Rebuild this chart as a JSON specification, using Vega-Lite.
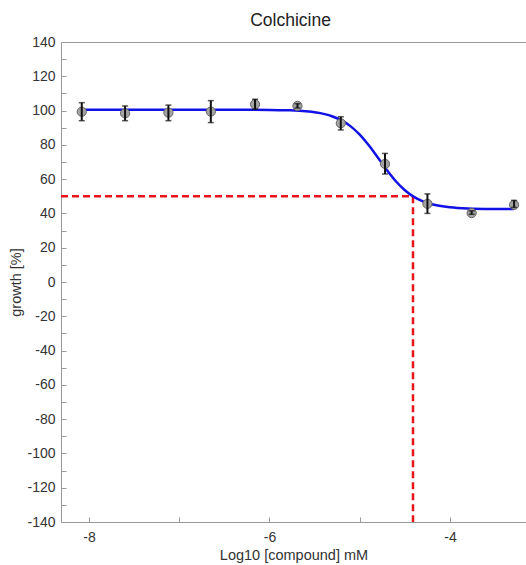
{
  "$schema": "https://vega.github.io/schema/vega-lite/v6.json",
  "width": 465,
  "height": 480,
  "autosize": {"type": "none"},
  "padding": {"left": 61, "top": 42, "right": 0, "bottom": 43},
  "background": "white",
  "config": {
    "view": {"stroke": "#999", "strokeWidth": 1},
    "font": "Liberation Sans",
    "axis": {
      "grid": false,
      "domain": false,
      "tickColor": "#999",
      "tickSize": 5,
      "offset": -5,
      "labelFont": "Liberation Sans",
      "labelFontSize": 14,
      "labelColor": "#333",
      "titleFont": "Liberation Sans",
      "titleFontSize": 14.5,
      "titleFontWeight": "normal",
      "titleColor": "#333"
    }
  },
  "title": {"text": "Colchicine", "fontSize": 17.5, "fontWeight": "normal", "font": "Liberation Sans", "color": "#222", "offset": 6, "dx": -3},
  "datasets": {
    "points": [
      {"x": -8.08, "y": 99.3, "lo": 94.1, "hi": 104.6},
      {"x": -7.60, "y": 98.4, "lo": 94.1, "hi": 102.7},
      {"x": -7.12, "y": 98.8, "lo": 94.1, "hi": 103.2},
      {"x": -6.65, "y": 99.4, "lo": 93.0, "hi": 105.8},
      {"x": -6.16, "y": 103.7, "lo": 100.8, "hi": 106.6},
      {"x": -5.69, "y": 102.7, "lo": 101.5, "hi": 104.0},
      {"x": -5.21, "y": 92.6, "lo": 88.7, "hi": 96.4},
      {"x": -4.72, "y": 68.9, "lo": 63.0, "hi": 75.0},
      {"x": -4.25, "y": 45.6, "lo": 40.0, "hi": 51.4},
      {"x": -3.76, "y": 40.2, "lo": 39.5, "hi": 41.5},
      {"x": -3.29, "y": 45.0, "lo": 43.5, "hi": 47.6}
    ],
    "curve": [
      {"x": -8.08, "y": 100.5},
      {"x": -7.0, "y": 100.5},
      {"x": -6.5, "y": 100.49},
      {"x": -6.0, "y": 100.38},
      {"x": -5.8, "y": 100.17},
      {"x": -5.6, "y": 99.6},
      {"x": -5.4, "y": 98.07},
      {"x": -5.3, "y": 96.56},
      {"x": -5.2, "y": 94.24},
      {"x": -5.1, "y": 90.79},
      {"x": -5.0, "y": 85.95},
      {"x": -4.9, "y": 79.75},
      {"x": -4.8, "y": 72.6},
      {"x": -4.7, "y": 65.32},
      {"x": -4.6, "y": 58.77},
      {"x": -4.5, "y": 53.51},
      {"x": -4.4, "y": 49.66},
      {"x": -4.3, "y": 47.03},
      {"x": -4.2, "y": 45.31},
      {"x": -4.0, "y": 43.55},
      {"x": -3.8, "y": 42.88},
      {"x": -3.5, "y": 42.58},
      {"x": -3.29, "y": 42.52}
    ],
    "ic50": [
      {"x": -8.31, "x2": -4.41, "y": 50, "y2": 50},
      {"x": -4.41, "x2": -4.41, "y": 50, "y2": -140}
    ]
  },
  "encoding": {
    "x": {
      "field": "x", "type": "quantitative",
      "scale": {"domain": [-8.31, -3.158], "nice": false, "zero": false},
      "axis": {
        "title": "Log10 [compound] mM",
        "values": [-8, -7, -6, -5, -4],
        "labelExpr": "datum.value % 2 == 0 ? '' + datum.value : ''",
        "labelPadding": 8,
        "titlePadding": 4
      }
    },
    "y": {
      "field": "y", "type": "quantitative",
      "scale": {"domain": [-140, 140], "nice": false, "zero": false},
      "axis": {
        "title": "growth [%]",
        "values": [-140, -130, -120, -110, -100, -90, -80, -70, -60, -50, -40, -30, -20, -10, 0, 10, 20, 30, 40, 50, 60, 70, 80, 90, 100, 110, 120, 130, 140],
        "labelExpr": "datum.value % 20 == 0 ? '' + datum.value : ''",
        "labelPadding": 6,
        "titlePadding": 3
      }
    }
  },
  "layer": [
    {
      "data": {"name": "ic50"},
      "mark": {"type": "rule", "color": "#e8141b", "strokeWidth": 2.5, "strokeDash": [7, 4]},
      "encoding": {"x2": {"field": "x2"}, "y2": {"field": "y2"}}
    },
    {
      "data": {"name": "curve"},
      "mark": {"type": "line", "color": "#1212e6", "strokeWidth": 2.5, "interpolate": "monotone"}
    },
    {
      "data": {"name": "points"},
      "mark": {"type": "point", "shape": "circle", "filled": true, "fill": "#a3a3a3", "stroke": "#666", "strokeWidth": 1, "size": 85, "opacity": 1}
    },
    {
      "data": {"name": "points"},
      "mark": {"type": "rule", "color": "#111", "strokeWidth": 2},
      "encoding": {"y": {"field": "lo", "type": "quantitative"}, "y2": {"field": "hi"}}
    },
    {
      "data": {"name": "points"},
      "mark": {"type": "tick", "orient": "horizontal", "color": "#111", "thickness": 1.5, "size": 6},
      "encoding": {"y": {"field": "lo", "type": "quantitative"}}
    },
    {
      "data": {"name": "points"},
      "mark": {"type": "tick", "orient": "horizontal", "color": "#111", "thickness": 1.5, "size": 6},
      "encoding": {"y": {"field": "hi", "type": "quantitative"}}
    }
  ]
}
